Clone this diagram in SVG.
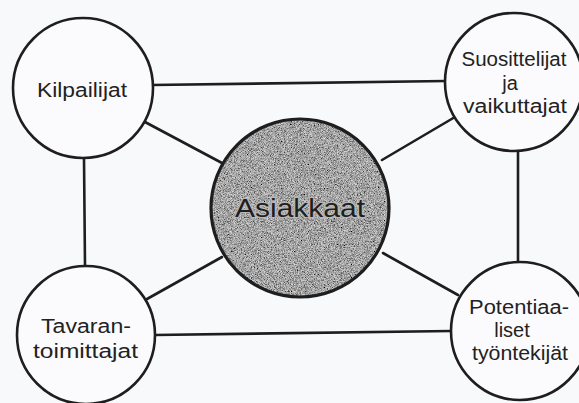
<svg xmlns="http://www.w3.org/2000/svg" width="579" height="403" viewBox="0 0 579 403">
  <style>
    .node { fill: #fbfbfd; stroke: #1e1e1e; stroke-width: 2.6; }
    .edge { stroke: #1e1e1e; stroke-width: 2.6; fill: none; stroke-linecap: round; }
    .lbl { font-family: "Liberation Sans", "DejaVu Sans", sans-serif; font-size: 20px; fill: #222; text-anchor: middle; }
    .big { font-family: "Liberation Sans", "DejaVu Sans", sans-serif; font-size: 26px; fill: #1e1e1e; stroke: #b8b8b8; stroke-width: 2.4; paint-order: stroke; text-anchor: middle; }
  </style>
  <defs>
    <filter id="grain" x="0" y="0" width="100%" height="100%">
      <feTurbulence type="fractalNoise" baseFrequency="1.3" numOctaves="1" seed="5" result="n"/>
      <feColorMatrix in="n" type="matrix" values="1.3 0 0 0 -0.28  1.3 0 0 0 -0.28  1.3 0 0 0 -0.28  0 0 0 0 1" result="g"/>
      <feComposite in="g" in2="SourceGraphic" operator="in"/>
    </filter>
  </defs>
  <rect width="579" height="403" fill="#f8f9fb"/>
  <g id="connectors">
    <line class="edge" x1="152" y1="85" x2="446" y2="81"/>
    <line class="edge" x1="84" y1="158" x2="85" y2="266"/>
    <line class="edge" x1="518" y1="151" x2="518" y2="261"/>
    <line class="edge" x1="155" y1="335" x2="451" y2="331"/>
    <line class="edge" x1="145" y1="122" x2="222" y2="163"/>
    <line class="edge" x1="455" y1="117" x2="382" y2="160"/>
    <line class="edge" x1="147" y1="299" x2="222" y2="257"/>
    <line class="edge" x1="458" y1="295" x2="383" y2="253"/>
  </g>
  <g id="asiakkaat">
    <circle cx="300" cy="208" r="89" fill="#5c5c5c"/>
    <circle cx="300" cy="208" r="89" fill="#5c5c5c" filter="url(#grain)"/>
    <circle cx="300" cy="208" r="89" fill="none" stroke="#1e1e1e" stroke-width="3.2"/>
    <text class="big" x="300" y="217" textLength="130" lengthAdjust="spacingAndGlyphs">Asiakkaat</text>
  </g>
  <g id="kilpailijat">
    <circle class="node" cx="83" cy="88" r="70"/>
    <text class="lbl" x="82" y="97" textLength="90" lengthAdjust="spacingAndGlyphs">Kilpailijat</text>
  </g>
  <g id="suosittelijat">
    <circle class="node" cx="514" cy="82" r="69"/>
    <text class="lbl" x="514" y="66" textLength="105" lengthAdjust="spacingAndGlyphs">Suosittelijat</text>
    <text class="lbl" x="510" y="90">ja</text>
    <text class="lbl" x="515" y="113" textLength="104" lengthAdjust="spacingAndGlyphs">vaikuttajat</text>
  </g>
  <g id="tavarantoimittajat">
    <circle class="node" cx="86" cy="335" r="69"/>
    <text class="lbl" x="86" y="333" textLength="90" lengthAdjust="spacingAndGlyphs">Tavaran-</text>
    <text class="lbl" x="85.5" y="358" textLength="105" lengthAdjust="spacingAndGlyphs">toimittajat</text>
  </g>
  <g id="potentiaaliset">
    <circle class="node" cx="520" cy="331" r="69"/>
    <text class="lbl" x="519" y="314" textLength="100" lengthAdjust="spacingAndGlyphs">Potentiaa-</text>
    <text class="lbl" x="512" y="337">liset</text>
    <text class="lbl" x="520" y="360" textLength="96" lengthAdjust="spacingAndGlyphs">työntekijät</text>
  </g>
</svg>
